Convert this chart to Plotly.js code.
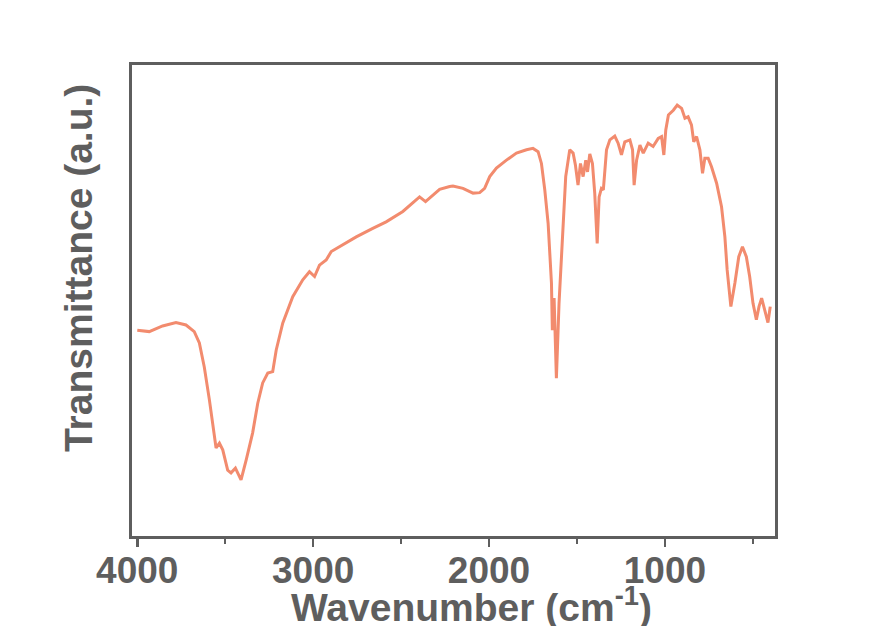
<!DOCTYPE html>
<html>
<head>
<meta charset="utf-8">
<script src="https://cdn.plot.ly/plotly-3.0.1.min.js"></script>
<style>html,body{margin:0;padding:0;background:#fff;}#chart{width:896px;height:626px;}</style>
</head>
<body>
<div id="chart"></div>
<script>
// Wavenumber (cm-1)
const wavenumber = [4000,3932,3856,3780,3723,3676,3647,3619,3590,3562,3552,3533,3514,3486,3467,3442,3429,3410,3381,3344,3315,3287,3258,3230,3210,3173,3116,3059,3021,2992,2964,2926,2897,2851,2793,2755,2661,2585,2490,2395,2361,2328,2281,2224,2205,2148,2091,2053,2025,1996,1958,1901,1844,1787,1750,1721,1702,1683,1664,1645,1640,1630,1617,1602,1583,1564,1541,1522,1509,1494,1480,1465,1450,1440,1427,1412,1399,1393,1385,1374,1361,1350,1332,1313,1285,1266,1247,1228,1199,1184,1175,1161,1142,1123,1095,1067,1038,1019,1006,995,980,952,930,905,886,868,849,836,820,801,786,773,754,735,706,678,659,646,625,602,580,559,537,518,499,480,465,450,433,414,401];
// Transmittance (a.u.)
const transmittance = [43.7,43.4,44.6,45.3,44.8,43.4,41.0,35.9,28.9,21.9,18.7,19.7,18.3,14.0,13.4,14.4,13.4,11.9,16.1,21.9,28.2,32.5,34.6,34.9,39.5,45.2,50.8,54.4,56.1,55.1,57.5,58.6,60.4,61.4,62.5,63.5,65.3,66.7,68.9,72.0,71.0,72.0,73.6,74.2,74.3,73.8,72.8,72.9,73.8,76.3,78.1,79.8,81.3,82.0,82.3,81.6,79.1,73.5,66.4,53.7,43.7,50.5,33.5,49.4,63.5,76.3,82.0,81.3,78.8,74.5,79.1,76.3,79.8,77.3,81.1,79.1,72.8,66.4,62.1,72.0,73.8,73.5,82.0,84.1,84.9,83.4,80.9,83.7,84.1,82.0,74.5,79.8,83.0,81.3,83.4,82.7,84.4,84.8,80.9,86.2,89.4,90.4,91.5,90.8,88.7,89.0,87.3,83.7,84.8,82.0,77.0,80.2,80.2,78.4,74.9,69.9,63.5,56.5,48.7,53.7,59.3,61.4,59.3,55.1,49.4,45.9,48.7,50.5,48.0,45.3,48.7];
const xTickVals = [4000,3000,2000,1000];
const xTickText = ['4000','3000','2000','1000'];

const axisColor = '#5e5e5e';
const fontFam = '"Liberation Sans", Arial, sans-serif';

const trace = {
  x: wavenumber, y: transmittance, type: 'scatter', mode: 'lines',
  line: {color: '#f28b6e', width: 3, shape: 'linear'},
  hoverinfo: 'skip'
};

const layout = {
  width: 896, height: 626,
  margin: {l: 132, r: 121, t: 65, b: 90},
  paper_bgcolor: '#ffffff', plot_bgcolor: '#ffffff',
  showlegend: false,
  xaxis: {
    range: [4030, 374], autorange: false,
    showgrid: false, zeroline: false,
    showline: true, mirror: true, linecolor: axisColor, linewidth: 3,
    tickmode: 'array', tickvals: xTickVals, ticktext: xTickText,
    ticks: 'outside', ticklen: 8, tickwidth: 2.5, tickcolor: axisColor,
    minor: {tickmode: 'linear', tick0: 500, dtick: 1000, ticks: 'outside', ticklen: 5, tickwidth: 2.5, tickcolor: axisColor, showgrid: false},
    tickfont: {family: fontFam, size: 37, color: axisColor, weight: 'bold'},
    ticklabelstandoff: -8
  },
  yaxis: {
    range: [0, 100], autorange: false,
    showgrid: false, zeroline: false,
    showline: true, mirror: true, linecolor: axisColor, linewidth: 3,
    ticks: '', showticklabels: false
  },
  annotations: [
    {text: 'Wavenumber (cm<sup>-1</sup>)', xref: 'paper', yref: 'paper', x: 0.528, y: -0.145,
     xanchor: 'center', yanchor: 'middle', showarrow: false,
     font: {family: fontFam, size: 39, color: axisColor, weight: 'bold'}},
    {text: 'Transmittance (a.u.)', xref: 'paper', yref: 'paper', x: -0.083, y: 0.568,
     xanchor: 'center', yanchor: 'middle', showarrow: false, textangle: -90,
     font: {family: fontFam, size: 39, color: axisColor, weight: 'bold'}}
  ]
};

Plotly.newPlot('chart', [trace], layout, {displayModeBar: false, staticPlot: true});
</script>
</body>
</html>
